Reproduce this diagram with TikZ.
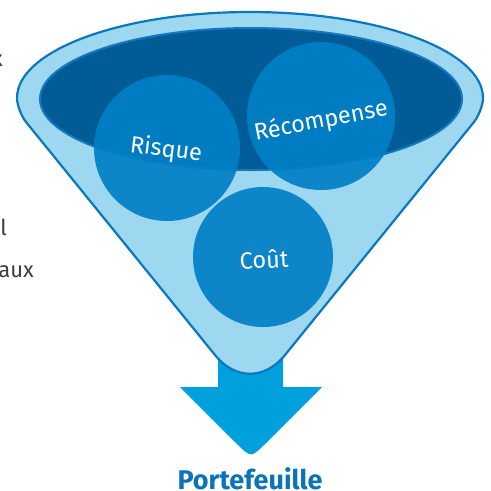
\documentclass[tikz,border=0pt]{standalone}
\usepackage{fontspec}
\setmainfont{Fira Sans}
\definecolor{funnelfill}{HTML}{9DD7F0}
\definecolor{funnelline}{HTML}{0A78BE}
\definecolor{darkell}{HTML}{005B96}
\definecolor{ellline}{HTML}{1479BF}
\definecolor{bubblecol}{HTML}{0080C6}
\definecolor{arrowcol}{HTML}{00A0DC}
\definecolor{titlecol}{HTML}{0A74B8}
\definecolor{greytext}{HTML}{3C3C3C}
\begin{document}
\begin{tikzpicture}[x=1pt,y=-1pt,
  bubble/.style={circle,inner sep=0pt,draw=none,fill=bubblecol,fill opacity=0.92},
  bubbletext/.style={text=white,font=\fontsize{23.5}{23.5}\selectfont,inner sep=0pt},
  sidetext/.style={text=greytext,font=\fontsize{22}{22}\selectfont,inner sep=0pt,anchor=base east}]
\clip (0,0) rectangle (491,491);
% side text fragments
\node[sidetext] (t1) at (3,66) {x};
\node[sidetext] (t2) at (7,235) {al};
\node[sidetext] (t3) at (34,277) {aux};
% arrow
\fill[arrowcol] (218,330) -- (218,387) -- (180,387) -- (236,443)
  .. controls (251,458) .. (266,443) -- (322,387) -- (283,387) -- (283,330) -- cycle;
% funnel
\draw[funnelline,line width=2.2pt,fill=funnelfill,line join=round]
  (17,98) arc[start angle=180,end angle=360,x radius=233,y radius=86]
  .. controls (483,106) and (477.8,117.3) .. (474,122)
  -- (285,355) .. controls (265,380) and (235,380) .. (215,355)
  -- (26,122) .. controls (22.2,117.3) and (17,106) .. (17,98) -- cycle;
% inner dark ellipse
\draw[ellline,line width=2pt,fill=darkell] (251,99) ellipse[x radius=211,y radius=71];
% bubbles
\node[bubble,minimum size=146pt] (cRisque) at (167,148) {};
\node[bubble,minimum size=148pt] (cRecomp) at (321,116) {};
\node[bubble,minimum size=140pt] (cCout) at (263,257) {};
\node[bubbletext,rotate=-7] (lRisque) at (166,150) {Risque};
\node[bubbletext,rotate=11] (lRecomp) at (321,121) {Récompense};
\node[bubbletext,rotate=3] (lCout) at (264,259) {Coût};
% title
\node[text=titlecol,font=\fontsize{27}{27}\selectfont\bfseries,inner sep=0pt] (title) at (250,479) {Portefeuille};
\end{tikzpicture}
\end{document}
